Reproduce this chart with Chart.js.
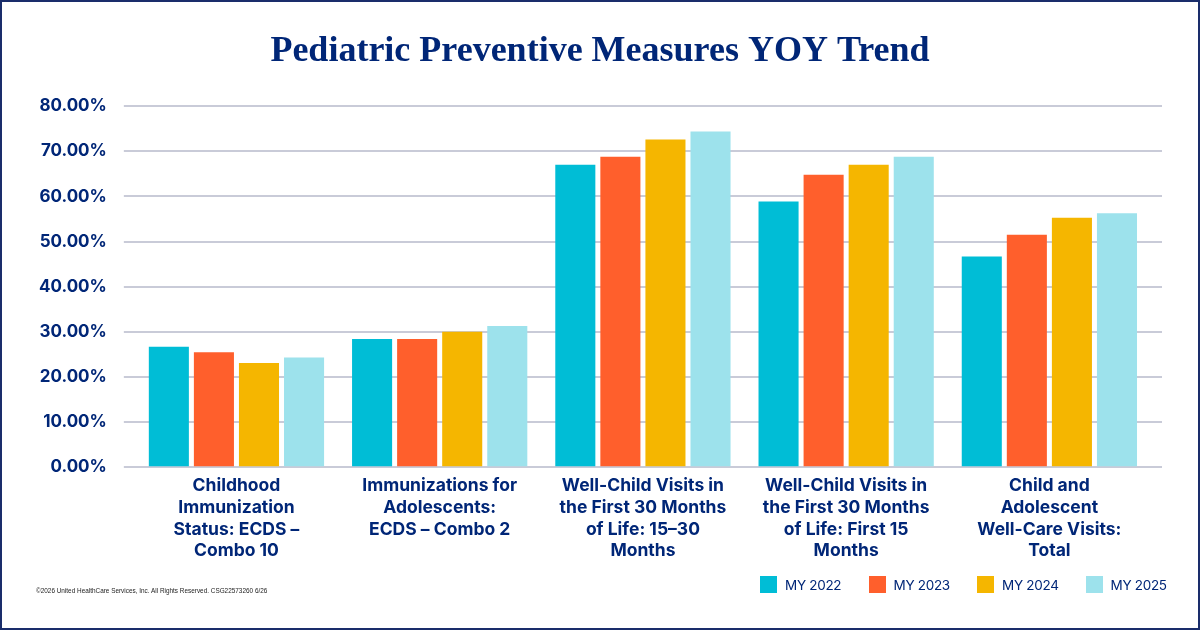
<!DOCTYPE html>
<html>
<head>
<meta charset="utf-8">
<script src="https://cdn.jsdelivr.net/npm/chart.js@4"></script>
<style>
  html, body { margin: 0; padding: 0; background: #fff; }
  #frame {
    position: relative;
    width: 1200px; height: 630px;
    box-sizing: border-box;
    border: 2px solid #1a2d6b;
    background: #fff;
  }
  #grafico { display: block; }
  #copy {
    position: absolute; left: 34px; top: 584px;
    font-family: "Liberation Sans", sans-serif;
    font-size: 8px; color: #222;
    transform: scaleX(0.8); transform-origin: left center;
    white-space: nowrap;
  }
  #legenda {
    position: absolute; left: 758px; top: 574px;
    display: flex;
    font-family: Inter, "Open Sans", sans-serif;
    font-size: 13.5px; letter-spacing: -0.3px; color: #002677;
  }
  #legenda .item { width: 108.5px; display: flex; align-items: center; }
  #legenda .box { width: 17px; height: 17px; margin-right: 8px; }
</style>
</head>
<body>
<div id="frame">
  <canvas id="grafico" width="1196" height="626"></canvas>
  <div id="copy">©2026 United HealthCare Services, Inc. All Rights Reserved. CSG22573260 6/26</div>
  <div id="legenda"></div>
</div>
<script>
const categorias = [
  ['Childhood', 'Immunization', 'Status: ECDS –', 'Combo 10'],
  ['Immunizations for', 'Adolescents:', 'ECDS – Combo 2'],
  ['Well-Child Visits in', 'the First 30 Months', 'of Life: 15–30', 'Months'],
  ['Well-Child Visits in', 'the First 30 Months', 'of Life: First 15', 'Months'],
  ['Child and', 'Adolescent', 'Well-Care Visits:', 'Total']
];

const my2022 = [26.7, 28.4, 67.0, 58.9, 46.7];
const my2023 = [25.5, 28.4, 68.8, 64.8, 51.5];
const my2024 = [23.1, 30.0, 72.6, 67.0, 55.3];
const my2025 = [24.3, 31.3, 74.4, 68.8, 56.3];

const series = ['MY 2022', 'MY 2023', 'MY 2024', 'MY 2025'];
const cores = ['#00bdd6', '#ff5f2c', '#f5b600', '#9de2ec'];
const yTicks = [0, 10, 20, 30, 40, 50, 60, 70, 80];

const navy = '#002677';
const gridCor = '#c9cbd8';
const sans = 'Inter, "Open Sans", sans-serif';

// legenda em HTML, a partir das series
const legenda = document.getElementById('legenda');
series.forEach((s, i) => {
  const item = document.createElement('div');
  item.className = 'item';
  item.innerHTML = `<span class="box" style="background:${cores[i]}"></span><span>${s}</span>`;
  legenda.appendChild(item);
});

function barra(i, valores) {
  return {
    label: series[i],
    data: valores,
    backgroundColor: cores[i],
    borderWidth: 0,
    categoryPercentage: 0.887,
    barPercentage: 0.889
  };
}

const ctx = document.getElementById('grafico').getContext('2d');
new Chart(ctx, {
  type: 'bar',
  data: {
    labels: categorias,
    datasets: [barra(0, my2022), barra(1, my2023), barra(2, my2024), barra(3, my2025)]
  },
  options: {
    responsive: false,
    animation: false,
    layout: { padding: { left: 36, right: 36, top: 0, bottom: 58 } },
    plugins: {
      title: {
        display: true,
        text: 'Pediatric Preventive Measures YOY Trend',
        color: navy,
        font: { family: '"Liberation Serif", "DejaVu Serif", serif', size: 36, weight: 'bold' },
        padding: { top: 28, bottom: 33 }
      },
      legend: { display: false },
      tooltip: { enabled: false }
    },
    scales: {
      x: {
        grid: { display: false, drawTicks: false },
        border: { color: gridCor, width: 2 },
        ticks: {
          color: navy,
          font: { family: sans, size: 17.5, weight: 'bold', lineHeight: 1.24 },
          maxRotation: 0,
          autoSkip: false,
          padding: 8
        }
      },
      y: {
        min: 0,
        max: 80,
        afterBuildTicks: (axis) => { axis.ticks = yTicks.map(v => ({ value: v })); },
        afterFit: (axis) => { axis.width -= 16; },
        grid: { color: gridCor, lineWidth: 2, drawTicks: true, tickLength: 11 },
        border: { display: false },
        ticks: {
          color: navy,
          font: { family: sans, size: 17, weight: 'bold' },
          padding: 17,
          callback: (v) => v.toFixed(2) + '%'
        }
      },
      y2: {
        position: 'right',
        min: 0,
        max: 80,
        afterBuildTicks: (axis) => { axis.ticks = yTicks.map(v => ({ value: v })); },
        grid: { color: gridCor, lineWidth: 2, drawOnChartArea: false, drawTicks: true, tickLength: 11 },
        border: { display: false },
        ticks: { display: false }
      }
    }
  }
});
</script>
</body>
</html>
